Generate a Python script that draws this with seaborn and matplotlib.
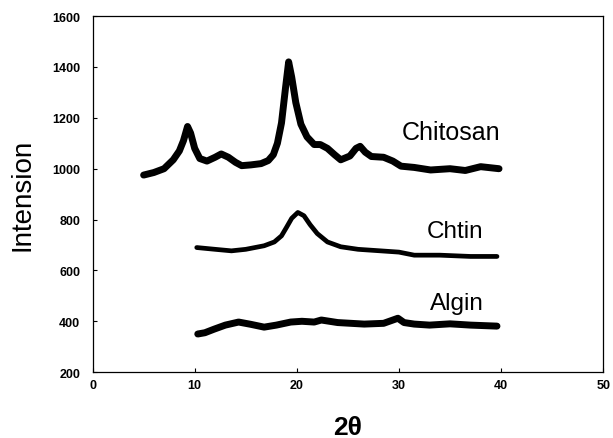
import matplotlib
matplotlib.use("Agg")
import matplotlib.pyplot as plt
import pandas as pd
import seaborn as sns

# XRD scans (2theta in degrees, intensity)
chitosan_x = [5.0, 6.0, 7.0, 7.9, 8.5, 8.9, 9.3, 9.6, 10.0, 10.5, 11.2, 12.0, 12.6, 13.3,
              14.0, 14.6, 15.5, 16.5, 17.2, 17.7, 18.1, 18.5, 18.9, 19.2, 19.5, 19.9,
              20.4, 21.0, 21.7, 22.3, 23.0, 23.7, 24.3, 25.2, 25.8, 26.2, 26.7, 27.3,
              28.5, 29.4, 30.2, 31.5, 33.1, 35.0, 36.5, 38.0, 39.8]
chitosan_y = [975, 985, 1000, 1035, 1070, 1110, 1166, 1140, 1080, 1040, 1030, 1045, 1058, 1045,
              1025, 1012, 1015, 1020, 1032, 1055, 1100, 1180, 1320, 1420, 1360, 1260,
              1175, 1125, 1095, 1095, 1080, 1055, 1035, 1050, 1080, 1088, 1065, 1048,
              1045, 1030, 1010, 1005, 995, 1000, 993, 1008, 1000]

chtin_x = [10.2, 12.0, 13.6, 15.0, 16.8, 17.8, 18.5, 19.0, 19.5, 20.1, 20.7, 21.3, 22.0,
           23.0, 24.3, 26.0, 28.2, 30.0, 31.5, 34.0, 37.0, 39.6]
chtin_y = [690, 683, 677, 683, 697, 712, 736, 770, 805, 828, 815, 780, 745,
           712, 693, 683, 677, 672, 660, 660, 655, 655]

algin_x = [10.3, 11.0, 11.9, 13.0, 14.3, 15.5, 16.8, 18.0, 19.4, 20.5, 21.7, 22.4, 24.0,
           26.6, 28.5, 29.9, 30.5, 31.5, 33.0, 35.0, 37.0, 39.6]
algin_y = [350, 355, 369, 385, 397, 388, 377, 385, 397, 400, 397, 405, 395,
           389, 392, 412, 395, 389, 385, 390, 385, 381]

series_names = ["Chitosan", "Chtin", "Algin"]
x_ticks = [0, 10, 20, 30, 40, 50]
y_ticks = [200, 400, 600, 800, 1000, 1200, 1400, 1600]

sns.set_style("ticks")
plt.rcParams["font.family"] = ["Liberation Sans", "DejaVu Sans"]
plt.rcParams["text.color"] = "black"
plt.rcParams["axes.labelcolor"] = "black"
plt.rcParams["xtick.color"] = "black"
plt.rcParams["ytick.color"] = "black"

fig = plt.figure(figsize=(6.13, 4.39), dpi=100)
ax = fig.add_axes([0.151, 0.150, 0.833, 0.811])

scans = [(chitosan_x, chitosan_y, 5.0), (chtin_x, chtin_y, 3.4), (algin_x, algin_y, 5.0)]
for name, (xs, ys, lw) in zip(series_names, scans):
    df = pd.DataFrame({"theta": xs, "intensity": ys})
    sns.lineplot(data=df, x="theta", y="intensity", ax=ax, color="black",
                 linewidth=lw, solid_joinstyle="round", solid_capstyle="round")

# curve labels
ax.text(39.9, 1116, "Chitosan", ha="right", va="baseline", fontsize=18)
ax.text(38.3, 731, "Chtin", ha="right", va="baseline", fontsize=17.5)
ax.text(38.3, 448, "Algin", ha="right", va="baseline", fontsize=17.5)

ax.set_xlim(0, 50)
ax.set_ylim(200, 1600)
ax.set_xticks(x_ticks)
ax.set_yticks(y_ticks)
ax.tick_params(direction="in", length=3, width=0.8, labelsize=9, pad=5)
ax.tick_params(axis="y", pad=9)
for lab in ax.get_xticklabels() + ax.get_yticklabels():
    lab.set_fontweight("bold")

for sp in ax.spines.values():
    sp.set_visible(True)
    sp.set_linewidth(0.9)
    sp.set_color("black")

ax.set_xlabel("2θ", fontsize=19, fontweight="bold", labelpad=17)
ax.set_ylabel("Intension", fontsize=20, labelpad=12)

fig.savefig("out.png", dpi=100)
